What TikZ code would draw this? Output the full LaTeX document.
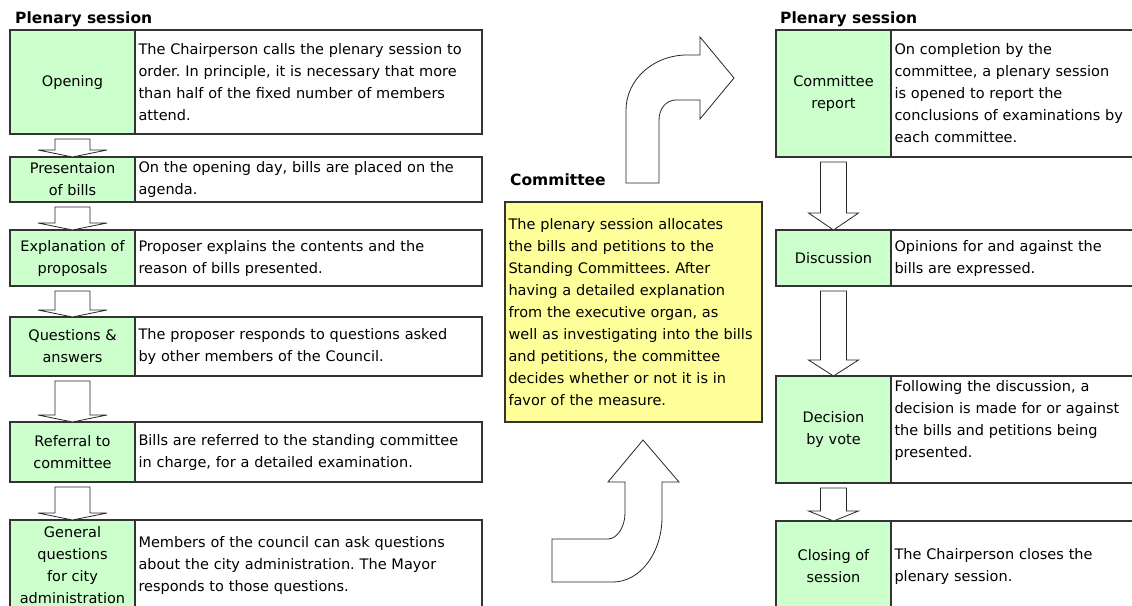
\documentclass[tikz,border=0pt]{standalone}
\usepackage{fontspec}
\setmainfont{DejaVu Sans}
\usetikzlibrary{calc,positioning}
\definecolor{stagegreen}{HTML}{CCFFCC}
\definecolor{noteyellow}{HTML}{FFFF99}
\definecolor{boxline}{HTML}{333333}
\frenchspacing
% block arrow from the bottom of one stage down to the top of the next
\newcommand{\flowdown}[5]{%
  \draw[blockarrow] let \p1=(#1.south), \p2=(#2.north) in
    (\x1-#3,\y1-5pt) -- (\x1+#3,\y1-5pt) -- (\x1+#3,\y2+#5) -- (\x1+#4,\y2+#5)
    -- (\x1,\y2) -- (\x1-#4,\y2+#5) -- (\x1-#3,\y2+#5) -- cycle;}

\begin{document}
\begin{tikzpicture}[x=1pt, y=-1pt, font=\fontsize{14.5}{22}\selectfont,
    stage/.style={draw=boxline, line width=1.3pt, fill=stagegreen, inner sep=0pt, outer sep=0pt, align=center, anchor=north west},
    detail/.style={draw=boxline, line width=1.3pt, fill=white, inner xsep=3.5pt, inner ysep=0pt, outer sep=0pt, align=left},
    lstage/.style={stage, minimum width=125pt},
    ldetail/.style={detail, text width=340pt},
    rstage/.style={stage, minimum width=115pt},
    rdetail/.style={detail, text width=352pt},
    note/.style={draw=boxline, line width=1.3pt, fill=noteyellow, inner xsep=3.5pt, inner ysep=0pt, outer sep=0pt, align=left, anchor=north west},
    heading/.style={font=\fontsize{15.5}{18}\selectfont\bfseries, anchor=west, inner sep=0pt},
    blockarrow/.style={draw=black!85, line width=0.8pt, fill=white, line join=miter}]

    \path[use as bounding box] (0,0) rectangle (1132,605);
    \clip (0,0) rectangle (1132,605);

    % left column
    \node[heading] (plenaryL) at (15,19) {Plenary session};
    \node[lstage, minimum height=104pt] (open) at (10,30) {Opening};
    \node[ldetail, minimum height=104pt, right=0pt of open] (opentxt) {The Chairperson calls the plenary session to\\order. In principle, it is necessary that more\\than half of the fixed number of members\\attend.};
    \node[lstage, minimum height=45pt] (present) at (10,157) {Presentaion\\of bills};
    \node[ldetail, minimum height=45pt, right=0pt of present] (presenttxt) {On the opening day, bills are placed on the\\agenda.};
    \node[lstage, minimum height=56pt] (explain) at (10,230) {Explanation of\\proposals};
    \node[ldetail, minimum height=56pt, right=0pt of explain] (explaintxt) {Proposer explains the contents and the\\reason of bills presented.};
    \node[lstage, minimum height=59pt] (questions) at (10,317) {Questions \&\\answers};
    \node[ldetail, minimum height=59pt, right=0pt of questions] (questionstxt) {The proposer responds to questions asked\\by other members of the Council.};
    \node[lstage, minimum height=60pt] (referral) at (10,422) {Referral to\\committee};
    \node[ldetail, minimum height=60pt, right=0pt of referral] (referraltxt) {Bills are referred to the standing committee\\in charge, for a detailed examination.};
    \node[lstage, minimum height=90pt] (general) at (10,520) {General\\questions\\for city\\administration};
    \node[ldetail, minimum height=90pt, right=0pt of general] (generaltxt) {Members of the council can ask questions\\about the city administration. The Mayor\\responds to those questions.};

    \flowdown{open}{present}{17.5pt}{34.5pt}{7pt}
    \flowdown{present}{explain}{17.5pt}{34.5pt}{7pt}
    \flowdown{explain}{questions}{17.5pt}{34.5pt}{7pt}
    \flowdown{questions}{referral}{17.5pt}{34.5pt}{7pt}
    \flowdown{referral}{general}{17.5pt}{34.5pt}{7pt}

    % committee
    \node[heading] (committeehead) at (510,180) {Committee};
    \node[note, minimum width=257pt, minimum height=220pt, text width=250pt] (committee) at (505,202) {The plenary session allocates\\the bills and petitions to the\\Standing Committees. After\\having a detailed explanation\\from the executive organ, as\\well as investigating into the bills\\and petitions, the committee\\decides whether or not it is in\\favor of the measure.};

    \draw[blockarrow] (552,539) -- (608,539) .. controls (617,539) and (625,527) .. (625,513)
      -- (625,482) -- (608,482) -- (643,440) -- (679,482) -- (662,482) -- (662,517)
      .. controls (662,553) and (640,582) .. (613,582) -- (552,582) -- cycle;
    \draw[blockarrow] (626,183) -- (626,110) .. controls (626,80) and (653,55) .. (687,55)
      -- (700,55) -- (700,37) -- (734,78) -- (700,119) -- (700,100) -- (676,100)
      .. controls (666,100) and (659,109) .. (659,120) -- (659,183) -- cycle;

    % right column
    \node[heading] (plenaryR) at (780,19) {Plenary session};
    \node[rstage, minimum height=127pt] (report) at (776,30) {Committee\\report};
    \node[rdetail, minimum height=127pt, right=0pt of report] (reporttxt) {On completion by the\\committee, a plenary session\\is opened to report the\\conclusions of examinations by\\each committee.};
    \node[rstage, minimum height=56pt] (discuss) at (776,230) {Discussion};
    \node[rdetail, minimum height=56pt, right=0pt of discuss] (discusstxt) {Opinions for and against the\\bills are expressed.};
    \node[rstage, minimum height=107pt] (vote) at (776,376) {Decision\\by vote};
    \node[rdetail, minimum height=107pt, right=0pt of vote] (votetxt) {Following the discussion, a\\decision is made for or against\\the bills and petitions being\\presented.\\\mbox{}};
    \node[rstage, minimum height=90pt] (closing) at (776,521) {Closing of\\session};
    \node[rdetail, minimum height=90pt, right=0pt of closing] (closingtxt) {The Chairperson closes the\\plenary session.};

    \flowdown{report}{discuss}{13pt}{25pt}{17pt}
    \flowdown{discuss}{vote}{13pt}{25pt}{16pt}
    \flowdown{vote}{closing}{13pt}{25pt}{10pt}

\end{tikzpicture}
\end{document}
